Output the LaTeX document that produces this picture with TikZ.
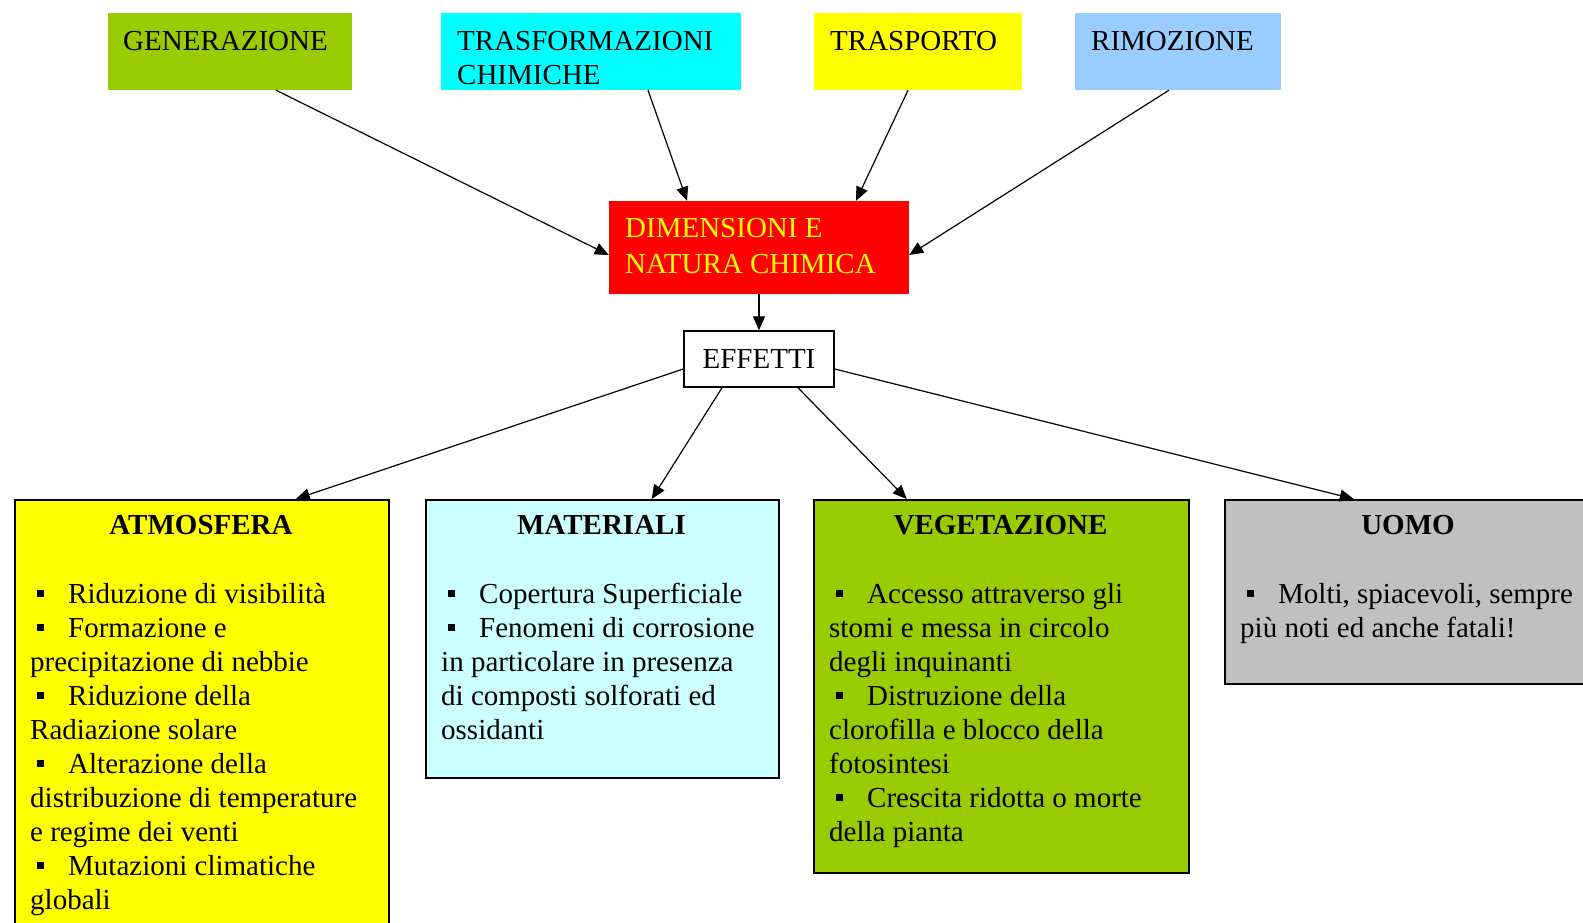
\documentclass[tikz,border=0pt]{standalone}
\usepackage{fontspec}
\setmainfont{Liberation Serif}
\usetikzlibrary{arrows.meta}
\definecolor{cgreen}{HTML}{99CC00}
\definecolor{ccyan}{HTML}{00FFFF}
\definecolor{cyellow}{HTML}{FFFF00}
\definecolor{cblue}{HTML}{99CCFF}
\definecolor{cred}{HTML}{FF0000}
\definecolor{clcyan}{HTML}{CCFFFF}
\definecolor{cgray}{HTML}{C0C0C0}
\newcommand{\bul}{\hspace*{7pt}\rule[6pt]{7pt}{7pt}\hspace*{24pt}}
\newcommand{\fst}{\rule{0pt}{24pt}}
\begin{document}
\begin{tikzpicture}[x=1pt,y=-1pt,
  topbox/.style={inner sep=0pt, minimum height=77pt},
  effbox/.style={draw, fill=white, line width=1.5pt, inner sep=0pt, minimum width=150pt, minimum height=56pt, font=\fontsize{29}{34}\selectfont},
  botbox/.style={draw, line width=1.5pt, inner sep=0pt, anchor=north west},
  lbl/.style={inner sep=0pt, anchor=north west, align=left, font=\fontsize{29}{34}\selectfont},
  body/.style={inner sep=0pt, anchor=north west, align=left, font=\fontsize{29}{34}\selectfont},
  ttl/.style={inner sep=0pt, anchor=base, font=\bfseries\fontsize{29}{34}\selectfont},
  arr/.style={-{Triangle[length=14pt,width=12pt]}, line width=1.2pt}]
\useasboundingbox (0,0) rectangle (1583,923);
\fill[white] (0,0) rectangle (1583,923);

% top boxes
\node[topbox, fill=cgreen, minimum width=244pt] (gen) at (230,51.5) {};
\node[topbox, fill=ccyan, minimum width=300pt] (trasf) at (591,51.5) {};
\node[topbox, fill=cyellow, minimum width=208pt] (trasp) at (918,51.5) {};
\node[topbox, fill=cblue, minimum width=206pt] (rimoz) at (1178,51.5) {};
\node[lbl] (gent) at (123,26.5) {\fst GENERAZIONE};
\node[lbl] (trasft) at (457,26.5) {\fst TRASFORMAZIONI\\CHIMICHE};
\node[lbl] (traspt) at (830,26.5) {\fst TRASPORTO};
\node[lbl] (rimozt) at (1091,26.5) {\fst RIMOZIONE};

% central
\node[inner sep=0pt, fill=cred, minimum width=300pt, minimum height=93pt] (dim) at (759,247.5) {};
\node[inner sep=0pt, anchor=north west, align=left, text=cyellow, font=\fontsize{29}{36}\selectfont] (dimt) at (625,213) {\fst DIMENSIONI E\\NATURA CHIMICA};
\node[effbox] (eff) at (759,359) {EFFETTI};

% bottom boxes
\node[botbox, fill=cyellow, minimum width=374pt, minimum height=440pt] (atm) at (14,499) {};
\node[botbox, fill=clcyan, minimum width=353pt, minimum height=278pt] (mat) at (425,499) {};
\node[botbox, fill=cgreen, minimum width=375pt, minimum height=373pt] (veg) at (813,499) {};
\node[botbox, fill=cgray, minimum width=368pt, minimum height=184pt] (uomo) at (1224,499) {};

\node[ttl] (atmh) at (201,534) {ATMOSFERA};
\node[ttl] (math) at (601.5,534) {MATERIALI};
\node[ttl] (vegh) at (1000.5,534) {VEGETAZIONE};
\node[ttl] (uomoh) at (1408,534) {UOMO};

\node[body] (atmt) at (30,579) {\fst\bul Riduzione di visibilità\\
\bul Formazione e\\
precipitazione di nebbie\\
\bul Riduzione della\\
Radiazione solare\\
\bul Alterazione della\\
distribuzione di temperature\\
e regime dei venti\\
\bul Mutazioni climatiche\\
globali};
\node[body] (matt) at (441,579) {\fst\bul Copertura Superficiale\\
\bul Fenomeni di corrosione\\
in particolare in presenza\\
di composti solforati ed\\
ossidanti};
\node[body] (vegt) at (829,579) {\fst\bul Accesso attraverso gli\\
stomi e messa in circolo\\
degli inquinanti\\
\bul Distruzione della\\
clorofilla e blocco della\\
fotosintesi\\
\bul Crescita ridotta o morte\\
della pianta};
\node[body] (uomot) at (1240,579) {\fst\bul Molti, spiacevoli, sempre\\
più noti ed anche fatali!};

% arrows
\draw[arr] ([xshift=46pt]gen.south) -- ([yshift=-7.5pt]dim.west);
\draw[arr] ([xshift=57pt]trasf.south) -- ([xshift=-72pt]dim.north);
\draw[arr] ([xshift=-10pt]trasp.south) -- ([xshift=97pt]dim.north);
\draw[arr] ([xshift=-9pt]rimoz.south) -- ([yshift=-7.5pt]dim.east);
\draw[arr] (dim.south) -- (eff.north);
\draw[arr] ([yshift=-10pt]eff.west) -- ([xshift=94pt]atm.north);
\draw[arr] ([xshift=-37pt]eff.south) -- ([xshift=49.5pt]mat.north);
\draw[arr] ([xshift=39pt]eff.south) -- ([xshift=-94.5pt]veg.north);
\draw[arr] ([yshift=-10pt]eff.east) -- ([xshift=-55pt]uomo.north);
\end{tikzpicture}
\end{document}
